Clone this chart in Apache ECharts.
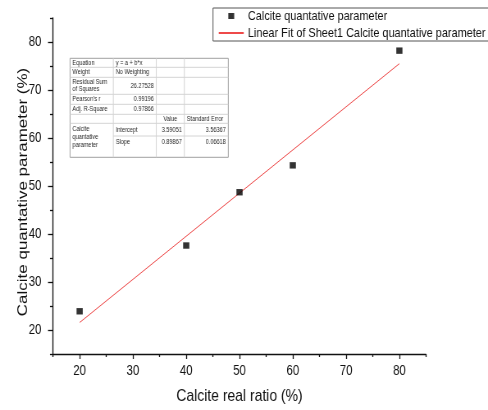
<!DOCTYPE html>
<html>
<head>
<meta charset="utf-8">
<script src="https://cdn.jsdelivr.net/npm/echarts@6/dist/echarts.min.js"></script>
<style>
  html, body { margin: 0; padding: 0; background: #fff; overflow: hidden; }
  /* the chart is laid out wider and condensed horizontally, giving narrow lettering */
  #chart { width: 595px; height: 410px; transform: scaleX(0.82017); transform-origin: 0 0; }
</style>
</head>
<body>
<div id="chart"></div>
<script>
// Measured calcite content versus the real ratio
const realRatio = [20, 40, 50, 60, 80];
const quantParam = [23.9, 37.6, 48.7, 54.3, 78.2];

// Linear fit results (y = a + b*x)
const fitIntercept = 3.59051;
const fitSlope = 0.89867;
const fitRange = [20, 80];

// Axis ticks
const majorTicks = [20, 30, 40, 50, 60, 70, 80];
const minorTicks = [15, 25, 35, 45, 55, 65, 75, 85];

// Fit report table rows
const tableRows = [
  ['Equation', 'y = a + b*x', '', ''],
  ['Weight', 'No Weighting', '', ''],
  ['Residual Sum\nof Squares', '26.27528', '', ''],
  ["Pearson's r", '0.99196', '', ''],
  ['Adj. R-Square', '0.97866', '', ''],
  ['', '', 'Value', 'Standard Error'],
  ['Calcite\nquantative\nparameter', 'Intercept', '3.59051', '3.56367'],
  ['', 'Slope', '0.89867', '0.06618']
];

const seriesName = 'Calcite quantative parameter';
const fitName = 'Linear Fit of Sheet1 Calcite quantative parameter';

const SANS = "'Liberation Sans', Arial, sans-serif";
const SX = 0.82017; // horizontal condensing factor of the page

const fitLine = fitRange.map(x => [x, fitIntercept + fitSlope * x]);
const points = realRatio.map((x, i) => [x, quantParam[i]]);

// table layout (in condensed page pixels, converted to layout pixels)
const colX = [70, 113.3, 156.3, 184.3, 228.3].map(v => v / SX);
const rowY = [58.3, 67.3, 77.3, 94.3, 104.3, 114.3, 123.3, 136, 157.3];

function buildTable() {
  const els = [];
  els.push({ type: 'rect', shape: { x: colX[0], y: rowY[0], width: colX[4] - colX[0], height: rowY[8] - rowY[0] },
    style: { fill: '#fff', stroke: '#a0a0a0', lineWidth: 1 }, z: 10 });
  for (let r = 1; r < rowY.length - 1; r++) {
    const x0 = (r === 7) ? colX[1] : colX[0];
    els.push({ type: 'line', shape: { x1: x0, y1: rowY[r], x2: colX[4], y2: rowY[r] },
      style: { stroke: '#d4d4d4', lineWidth: 1 }, z: 11 });
  }
  for (let c = 1; c < colX.length - 1; c++) {
    els.push({ type: 'line', shape: { x1: colX[c], y1: rowY[0], x2: colX[c], y2: rowY[8] },
      style: { stroke: '#d4d4d4', lineWidth: 1 }, z: 11 });
  }
  const numeric = /^[0-9.]+$/;
  tableRows.forEach((row, r) => {
    row.forEach((txt, c) => {
      if (!txt) return;
      const y0 = rowY[r];
      const y1 = (r === 6 && c === 0) ? rowY[8] : rowY[r + 1];
      let align = 'left', x = colX[c] + 3;
      if (numeric.test(txt)) { align = 'right'; x = colX[c + 1] - 3; }
      if (txt === 'Value') { align = 'center'; x = (colX[c] + colX[c + 1]) / 2; }
      let yy = (y0 + y1) / 2, va = 'middle';
      if (r === 7 || (r === 6 && c === 0)) { yy = y0 + 2.5; va = 'top'; }
      els.push({ type: 'text', x: x, y: yy, z: 12,
        style: { text: txt, align: align, verticalAlign: va, fontSize: 6.8, lineHeight: 7.6,
          fontFamily: SANS, fill: '#2a2a2a' } });
    });
  });
  return els;
}

const chart = echarts.init(document.getElementById('chart'), null, { renderer: 'canvas' });

const axisLineStyle = { color: '#111', width: 1.3 };

chart.setOption({
  animation: false,
  backgroundColor: '#fff',
  grid: { left: 53 / SX, right: 62 / SX, top: 18, bottom: 56, containLabel: false, outerBoundsMode: 'none' },
  legend: {
    orient: 'vertical',
    left: 213 / SX,
    top: 8,
    padding: [1, 40, 1, 6],
    itemGap: 3,
    itemWidth: 25 / SX,
    itemHeight: 6,
    borderColor: '#555',
    borderWidth: 1,
    borderRadius: 0,
    backgroundColor: '#fff',
    textStyle: { fontFamily: SANS, fontSize: 13.3, color: '#111', lineHeight: 14 },
    data: [
      { name: seriesName, icon: 'path://M0,0H12V10H0Z', itemStyle: { color: '#000' } },
      { name: fitName, itemStyle: { opacity: 0 } }
    ]
  },
  xAxis: [
    {
      type: 'value', min: 15, max: 85, interval: 5,
      name: 'Calcite real ratio (%)', nameLocation: 'middle', nameGap: 34, nameMoveOverlap: false,
      nameTextStyle: { fontFamily: SANS, fontSize: 17, color: '#111' },
      axisLine: { show: true, onZero: false, lineStyle: axisLineStyle },
      axisTick: { show: true, customValues: majorTicks, length: 5, lineStyle: axisLineStyle },
      axisLabel: { customValues: majorTicks, margin: 10, fontFamily: SANS, fontSize: 14, color: '#111' },
      splitLine: { show: false }
    },
    {
      type: 'value', min: 15, max: 85, interval: 5, position: 'bottom',
      axisLine: { show: false },
      axisTick: { show: true, customValues: minorTicks, length: 3, lineStyle: axisLineStyle },
      axisLabel: { show: false },
      splitLine: { show: false }
    }
  ],
  yAxis: [
    {
      type: 'value', min: 15, max: 85, interval: 5,
      name: 'Calcite quantative parameter (%)', nameLocation: 'middle', nameGap: 28, nameMoveOverlap: false,
      nameTextStyle: { fontFamily: SANS, fontSize: 17, color: '#111', padding: [0, 12, 0, 0] },
      axisLine: { show: true, onZero: false, lineStyle: axisLineStyle },
      axisTick: { show: true, customValues: majorTicks, length: 5 / SX, lineStyle: axisLineStyle },
      axisLabel: { customValues: majorTicks, margin: 14, fontFamily: SANS, fontSize: 14, color: '#111' },
      splitLine: { show: false }
    },
    {
      type: 'value', min: 15, max: 85, interval: 5, position: 'left',
      axisLine: { show: false },
      axisTick: { show: true, customValues: minorTicks, length: 3 / SX, lineStyle: axisLineStyle },
      axisLabel: { show: false },
      splitLine: { show: false }
    }
  ],
  series: [
    {
      name: fitName, type: 'line', data: fitLine, showSymbol: false, symbol: 'none',
      lineStyle: { color: '#ee4a4a', width: 1 }, itemStyle: { color: '#ee4a4a' }, z: 2
    },
    {
      name: seriesName, type: 'scatter', data: points, symbol: 'rect', symbolSize: [6.2 / SX, 6.4],
      itemStyle: { color: '#000' }, z: 3
    }
  ],
  graphic: buildTable()
});
</script>
</body>
</html>
